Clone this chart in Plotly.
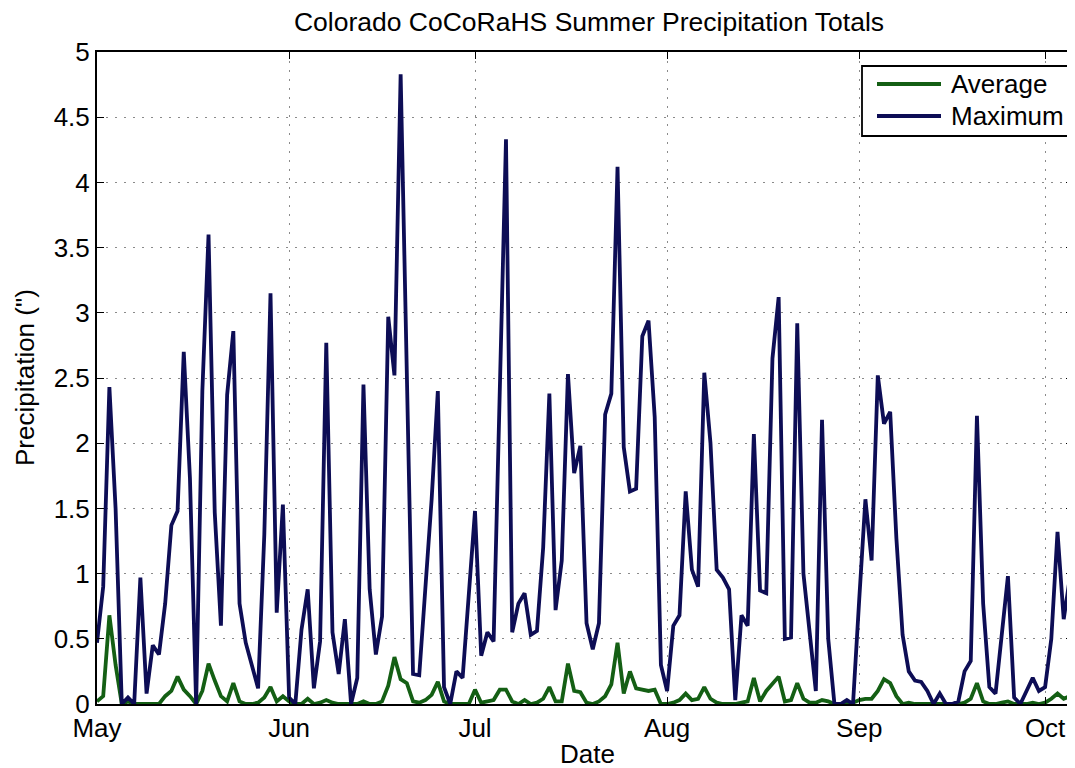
import pandas as pd
import plotly.graph_objects as go

start_date = "2013-05-01"
end_range = "2013-10-05 12:00"

maximum = [
    0.47, 0.9, 2.43, 1.5, 0.0, 0.05, 0.0, 0.97, 0.08, 0.45,
    0.38, 0.77, 1.37, 1.48, 2.7, 1.73, 0.0, 2.4, 3.6, 1.47,
    0.6, 2.37, 2.86, 0.77, 0.47, 0.3, 0.12, 1.3, 3.15, 0.7,
    1.53, 0.05, 0.0, 0.57, 0.88, 0.12, 0.48, 2.77, 0.55, 0.23,
    0.65, 0.0, 0.2, 2.45, 0.88, 0.38, 0.67, 2.97, 2.52, 4.83,
    2.5, 0.23, 0.22, 0.93, 1.57, 2.4, 0.13, 0.0, 0.25, 0.2,
    0.87, 1.48, 0.37, 0.55, 0.48, 2.4, 4.33, 0.55, 0.77, 0.85,
    0.53, 0.56, 1.2, 2.38, 0.72, 1.1, 2.53, 1.77, 1.98, 0.62,
    0.42, 0.62, 2.22, 2.38, 4.12, 1.97, 1.63, 1.65, 2.82, 2.94,
    2.2, 0.3, 0.1, 0.6, 0.68, 1.63, 1.03, 0.9, 2.54, 2.0,
    1.03, 0.97, 0.88, 0.03, 0.68, 0.6, 2.07, 0.87, 0.85, 2.65,
    3.12, 0.5, 0.51, 2.92, 1.0, 0.55, 0.1, 2.18, 0.5, 0.0,
    0.0, 0.03, 0.0, 0.8, 1.57, 1.1, 2.52, 2.15, 2.24, 1.27,
    0.53, 0.25, 0.18, 0.17, 0.1, 0.0, 0.08, 0.0, 0.0, 0.02,
    0.25, 0.33, 2.21, 0.77, 0.13, 0.08, 0.5, 0.98, 0.05, 0.0,
    0.1, 0.2, 0.1, 0.13, 0.5, 1.32, 0.65, 0.97,
]

average = [
    0.02, 0.06, 0.68, 0.3, 0.0, 0.02, 0.0, 0.0, 0.0, 0.0,
    0.0, 0.06, 0.1, 0.21, 0.11, 0.06, 0.0, 0.1, 0.31, 0.18,
    0.06, 0.02, 0.16, 0.02, 0.0, 0.0, 0.01, 0.05, 0.13, 0.02,
    0.06, 0.02, 0.0, 0.0, 0.04, 0.0, 0.01, 0.03, 0.01, 0.0,
    0.0, 0.0, 0.0, 0.02, 0.0, 0.0, 0.02, 0.14, 0.36, 0.19,
    0.16, 0.02, 0.01, 0.03, 0.07, 0.17, 0.02, 0.0, 0.0, 0.0,
    0.0, 0.11, 0.01, 0.02, 0.03, 0.11, 0.11, 0.02, 0.0, 0.03,
    0.0, 0.01, 0.04, 0.13, 0.02, 0.02, 0.31, 0.1, 0.09, 0.01,
    0.0, 0.02, 0.06, 0.15, 0.47, 0.08, 0.25, 0.12, 0.11, 0.1,
    0.11, 0.0, 0.0, 0.01, 0.03, 0.08, 0.03, 0.04, 0.13, 0.04,
    0.01, 0.0, 0.0, 0.0, 0.01, 0.02, 0.2, 0.02, 0.1, 0.16,
    0.21, 0.02, 0.03, 0.16, 0.04, 0.01, 0.01, 0.03, 0.02, 0.0,
    0.0, 0.0, 0.01, 0.03, 0.04, 0.04, 0.1, 0.19, 0.16, 0.06,
    0.0, 0.01, 0.0, 0.0, 0.0, 0.0, 0.0, 0.0, 0.0, 0.0,
    0.01, 0.04, 0.16, 0.02, 0.0, 0.0, 0.01, 0.02, 0.0, 0.0,
    0.0, 0.01, 0.0, 0.01, 0.04, 0.08, 0.04, 0.06,
]

series_names = ["Average", "Maximum"]
series_colors = ["#145f14", "#0d0d55"]

month_ticks = ["2013-05-01", "2013-06-01", "2013-07-01", "2013-08-01", "2013-09-01", "2013-10-01"]
month_labels = ["May", "Jun", "Jul", "Aug", "Sep", "Oct"]
y_ticks = [0, 0.5, 1, 1.5, 2, 2.5, 3, 3.5, 4, 4.5, 5]
y_labels = ["0", "0.5", "1", "1.5", "2", "2.5", "3", "3.5", "4", "4.5", "5"]

dates_max = pd.date_range(start_date, periods=len(maximum), freq="D")
dates_avg = pd.date_range(start_date, periods=len(average), freq="D")

FONT = "Liberation Sans, Arial, Helvetica, sans-serif"
FS = 26

# page body has an 8px default margin; the figure is sized to sit inside the window
OFF = 8
W, H = 1067, 760
ML, MR, MT, MB = 89, 2, 44, 64
PW, PH = W - ML - MR, H - MT - MB
PX0, PY0 = OFF + ML, OFF + MT  # plot area top-left in screen px


def px(xs):
    return (xs - PX0) / PW


def py(ys):
    return 1 - (ys - PY0) / PH


fig = go.Figure()
fig.add_trace(go.Scatter(x=dates_avg, y=average, mode="lines", name=series_names[0],
                         line=dict(color=series_colors[0], width=3.8)))
fig.add_trace(go.Scatter(x=dates_max, y=maximum, mode="lines", name=series_names[1],
                         line=dict(color=series_colors[1], width=3.8)))

axis_common = dict(
    showline=True, linecolor="black", linewidth=2, mirror="ticks",
    ticks="inside", ticklen=7, tickwidth=1.3, tickcolor="black",
    showgrid=True, gridcolor="#8a8a8a", gridwidth=1, griddash="2px,7px",
    zeroline=False, automargin=False,
    tickfont=dict(size=FS, color="black", family=FONT),
)

fig.update_xaxes(
    type="date", range=[start_date, end_range],
    tickvals=month_ticks, ticktext=month_labels,
    **axis_common,
)
fig.update_yaxes(
    range=[0, 5], tickvals=y_ticks, ticktext=y_labels,
    **axis_common,
)

# MATLAB-style legend box (compact row spacing)
shapes = [
    dict(type="rect", xref="paper", yref="paper",
         x0=px(862), x1=px(1072), y0=py(136), y1=py(66),
         line=dict(color="black", width=1.8), fillcolor="white", layer="above"),
]
legend_rows = [84, 116]
annotations = []
for name, color, row in zip(series_names, series_colors, legend_rows):
    shapes.append(dict(type="line", xref="paper", yref="paper",
                       x0=px(877), x1=px(941), y0=py(row), y1=py(row),
                       line=dict(color=color, width=3.8), layer="above"))
    annotations.append(dict(text=name, xref="paper", yref="paper",
                            x=px(949), y=py(row), xanchor="left", yanchor="middle",
                            showarrow=False, font=dict(size=FS, color="black", family=FONT)))

annotations += [
    dict(text="Date", xref="paper", yref="paper", x=px(587), y=py(754),
         xanchor="center", yanchor="middle", showarrow=False,
         font=dict(size=FS, color="black", family=FONT)),
    dict(text="Precipitation (\")", xref="paper", yref="paper",
         x=px(25), y=0.5, xanchor="center", yanchor="middle",
         textangle=-90, showarrow=False,
         font=dict(size=FS, color="black", family=FONT)),
]

fig.update_layout(
    width=W, height=H,
    margin=dict(l=ML, r=MR, t=MT, b=MB),
    paper_bgcolor="white", plot_bgcolor="white",
    font=dict(family=FONT, color="black", size=FS),
    title=dict(text="Colorado CoCoRaHS Summer Precipitation Totals",
               x=(589 - OFF) / W, xanchor="center", xref="container",
               y=1 - (22 - OFF) / H, yanchor="middle", yref="container",
               font=dict(size=26.5, color="black", family=FONT)),
    showlegend=False,
    shapes=shapes,
    annotations=annotations,
)

fig.write_html("out.html")
